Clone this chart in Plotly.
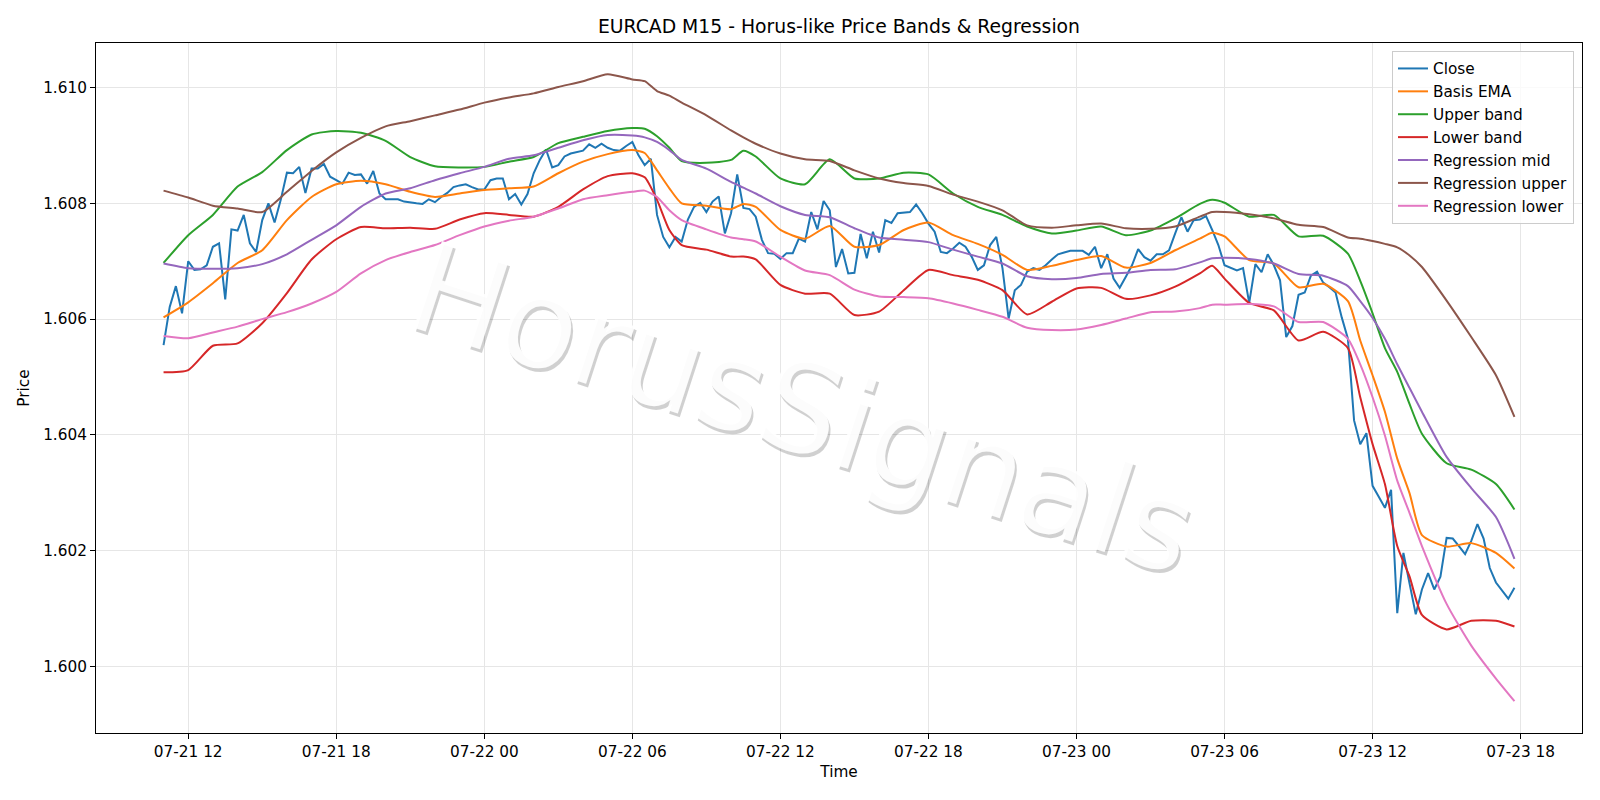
import pandas as pd
import plotly.graph_objects as go

# ---------------- data ----------------
start_time = "2025-07-21 11:00"

close = [
    1.60555, 1.60621, 1.60657, 1.60610, 1.60700, 1.60685, 1.60686, 1.60693, 1.60725, 1.60731,
    1.60634, 1.60755, 1.60753, 1.60780, 1.60731, 1.60716, 1.60771, 1.60800, 1.60767, 1.60806,
    1.60853, 1.60852, 1.60863, 1.60818, 1.60860, 1.60860, 1.60868, 1.60846, 1.60840, 1.60834,
    1.60853, 1.60849, 1.60850, 1.60834, 1.60856, 1.60817, 1.60807, 1.60807, 1.60807, 1.60803,
    1.60801, 1.60800, 1.60799, 1.60807, 1.60802, 1.60811, 1.60818, 1.60828, 1.60831, 1.60833,
    1.60828, 1.60824, 1.60824, 1.60840, 1.60843, 1.60843, 1.60807, 1.60816, 1.60798, 1.60816,
    1.60852, 1.60875, 1.60893, 1.60862, 1.60866, 1.60881, 1.60886, 1.60889, 1.60891, 1.60902,
    1.60896, 1.60903, 1.60896, 1.60892, 1.60891, 1.60899, 1.60906, 1.60883, 1.60866, 1.60877,
    1.60780, 1.60742, 1.60724, 1.60742, 1.60734, 1.60772, 1.60794, 1.60801, 1.60785, 1.60803,
    1.60812, 1.60748, 1.60783, 1.60850, 1.60792, 1.60790, 1.60777, 1.60737, 1.60714, 1.60713,
    1.60704, 1.60714, 1.60714, 1.60739, 1.60734, 1.60785, 1.60755, 1.60804, 1.60788, 1.60690,
    1.60721, 1.60679, 1.60680, 1.60747, 1.60705, 1.60751, 1.60715, 1.60771, 1.60766, 1.60783,
    1.60784, 1.60785, 1.60798, 1.60783, 1.60765, 1.60751, 1.60716, 1.60714, 1.60722, 1.60732,
    1.60725, 1.60708, 1.60685, 1.60693, 1.60728, 1.60742, 1.60688, 1.60601, 1.60650, 1.60659,
    1.60682, 1.60688, 1.60685, 1.60693, 1.60703, 1.60712, 1.60715, 1.60718, 1.60718, 1.60718,
    1.60711, 1.60725, 1.60688, 1.60712, 1.60670, 1.60654, 1.60673, 1.60693, 1.60721, 1.60707,
    1.60701, 1.60712, 1.60712, 1.60719, 1.60748, 1.60776, 1.60751, 1.60771, 1.60772, 1.60778,
    1.60754, 1.60728, 1.60693, 1.60688, 1.60684, 1.60688, 1.60628, 1.60695, 1.60681, 1.60712,
    1.60693, 1.60667, 1.60569, 1.60588, 1.60642, 1.60646, 1.60675, 1.60682, 1.60663, 1.60655,
    1.60646, 1.60603, 1.60566, 1.60425, 1.60384, 1.60403, 1.60312, 1.60293, 1.60274, 1.60305,
    1.60092, 1.60196, 1.60142, 1.60090, 1.60133, 1.60161, 1.60133, 1.60155, 1.60222, 1.60221,
    1.60208, 1.60194, 1.60217, 1.60246, 1.60221, 1.60170, 1.60145, 1.60132, 1.60117, 1.60136,
]

# bar index (15-min step) at which the smooth series were read
band_idx = [0, 4, 8, 12, 16, 20, 24, 28, 32, 36,
            40, 44, 48, 52, 56, 60, 64, 68, 72,
            76, 78, 80, 82, 84, 88, 92, 94, 96, 100, 104, 108,
            112, 116, 120, 124, 128, 132, 136, 140, 144,
            148, 152, 156, 160, 164, 168, 170, 172, 176, 180,
            184, 188, 192, 194, 196, 198, 200, 202, 204, 208, 212, 216, 219]

basis_ema = [1.60603, 1.60629, 1.60662, 1.60697, 1.60719, 1.60771, 1.60811, 1.60833, 1.60839, 1.60833,
             1.60820, 1.60811, 1.60817, 1.60823, 1.60826, 1.60829, 1.60852, 1.60872, 1.60885,
             1.60892, 1.60887, 1.60857, 1.60826, 1.60800, 1.60796, 1.60790, 1.60799, 1.60794, 1.60754, 1.60739, 1.60761,
             1.60725, 1.60728, 1.60754, 1.60767, 1.60745, 1.60730, 1.60711, 1.60685, 1.60692,
             1.60702, 1.60709, 1.60689, 1.60697, 1.60719, 1.60739, 1.60749, 1.60743, 1.60702, 1.60696,
             1.60655, 1.60661, 1.60631, 1.60563, 1.60503, 1.60440, 1.60359, 1.60299, 1.60227, 1.60207, 1.60213, 1.60196, 1.60169]

upper_band = [1.60697, 1.60745, 1.60780, 1.60829, 1.60854, 1.60892, 1.60919, 1.60925, 1.60922, 1.60908,
              1.60880, 1.60864, 1.60862, 1.60863, 1.60872, 1.60880, 1.60904, 1.60915, 1.60925,
              1.60930, 1.60929, 1.60916, 1.60896, 1.60873, 1.60870, 1.60875, 1.60891, 1.60881, 1.60843, 1.60833, 1.60876,
              1.60843, 1.60843, 1.60853, 1.60850, 1.60817, 1.60794, 1.60780, 1.60760, 1.60748,
              1.60753, 1.60760, 1.60745, 1.60753, 1.60774, 1.60799, 1.60806, 1.60801, 1.60777, 1.60780,
              1.60743, 1.60744, 1.60713, 1.60666, 1.60610, 1.60550, 1.60509, 1.60453, 1.60402, 1.60351, 1.60340, 1.60315, 1.60271]

lower_band = [1.60508, 1.60512, 1.60554, 1.60558, 1.60593, 1.60645, 1.60703, 1.60738, 1.60759, 1.60757,
              1.60758, 1.60756, 1.60772, 1.60783, 1.60780, 1.60777, 1.60794, 1.60824, 1.60847,
              1.60852, 1.60845, 1.60806, 1.60754, 1.60728, 1.60720, 1.60708, 1.60708, 1.60703, 1.60659, 1.60644, 1.60644,
              1.60607, 1.60613, 1.60650, 1.60685, 1.60676, 1.60668, 1.60650, 1.60608, 1.60630,
              1.60653, 1.60654, 1.60635, 1.60641, 1.60656, 1.60679, 1.60692, 1.60670, 1.60628, 1.60615,
              1.60563, 1.60578, 1.60550, 1.60465, 1.60384, 1.60315, 1.60208, 1.60155, 1.60089, 1.60064, 1.60079, 1.60079, 1.60069]

reg_mid = [1.60696, 1.60688, 1.60687, 1.60688, 1.60695, 1.60712, 1.60737, 1.60762, 1.60794, 1.60817,
           1.60826, 1.60840, 1.60852, 1.60863, 1.60877, 1.60883, 1.60896, 1.60909, 1.60918,
           1.60917, 1.60914, 1.60906, 1.60892, 1.60875, 1.60860, 1.60837, 1.60827, 1.60817, 1.60795, 1.60780, 1.60776,
           1.60757, 1.60741, 1.60737, 1.60733, 1.60720, 1.60708, 1.60696, 1.60674, 1.60669,
           1.60671, 1.60678, 1.60680, 1.60685, 1.60686, 1.60698, 1.60705, 1.60706, 1.60704, 1.60696,
           1.60678, 1.60675, 1.60657, 1.60631, 1.60602, 1.60566, 1.60522, 1.60481, 1.60440, 1.60362, 1.60308, 1.60258, 1.60186]

reg_upper = [1.60822, 1.60810, 1.60796, 1.60791, 1.60785, 1.60820, 1.60856, 1.60888, 1.60913, 1.60933,
             1.60942, 1.60952, 1.60962, 1.60974, 1.60983, 1.60990, 1.61001, 1.61011, 1.61023,
             1.61014, 1.61011, 1.60994, 1.60986, 1.60974, 1.60952, 1.60926, 1.60914, 1.60903, 1.60886, 1.60876, 1.60873,
             1.60857, 1.60843, 1.60835, 1.60830, 1.60815, 1.60803, 1.60788, 1.60762, 1.60758,
             1.60762, 1.60765, 1.60757, 1.60756, 1.60760, 1.60777, 1.60785, 1.60785, 1.60781, 1.60774,
             1.60763, 1.60759, 1.60741, 1.60739, 1.60735, 1.60730, 1.60724, 1.60710, 1.60690, 1.60632, 1.60569, 1.60503, 1.60431]

reg_lower = [1.60571, 1.60567, 1.60577, 1.60587, 1.60600, 1.60612, 1.60627, 1.60647, 1.60679, 1.60702,
             1.60716, 1.60728, 1.60745, 1.60760, 1.60770, 1.60777, 1.60791, 1.60807, 1.60814,
             1.60820, 1.60822, 1.60811, 1.60788, 1.60771, 1.60755, 1.60741, 1.60738, 1.60734, 1.60708, 1.60684, 1.60676,
             1.60651, 1.60639, 1.60638, 1.60636, 1.60627, 1.60616, 1.60604, 1.60585, 1.60581,
             1.60582, 1.60590, 1.60601, 1.60612, 1.60613, 1.60619, 1.60625, 1.60625, 1.60626, 1.60622,
             1.60595, 1.60595, 1.60566, 1.60522, 1.60465, 1.60399, 1.60321, 1.60265, 1.60208, 1.60108, 1.60036, 1.59979, 1.59940]

y_ticks = [1.600, 1.602, 1.604, 1.606, 1.608, 1.610]

# ---------------- figure ----------------
times = pd.date_range(start_time, periods=len(close), freq="15min")
band_times = times[band_idx]

FONT = "DejaVu Sans"
FS = 15.3
series = [
    ("Close", times, close, "#1f77b4", "linear"),
    ("Basis EMA", band_times, basis_ema, "#ff7f0e", "spline"),
    ("Upper band", band_times, upper_band, "#2ca02c", "spline"),
    ("Lower band", band_times, lower_band, "#d62728", "spline"),
    ("Regression mid", band_times, reg_mid, "#9467bd", "spline"),
    ("Regression upper", band_times, reg_upper, "#8c564b", "spline"),
    ("Regression lower", band_times, reg_lower, "#e377c2", "spline"),
]

fig = go.Figure()
for name, xs, ys, color, shape in series:
    line = dict(color=color, width=2, shape=shape)
    if shape == "spline":
        line["smoothing"] = 0.6
    fig.add_trace(go.Scatter(x=xs, y=ys, mode="lines", name=name, line=line,
                             legendgroup=name))

axis_common = dict(
    showline=True, mirror=True, linecolor="black", linewidth=1,
    ticks="outside", ticklen=5, tickwidth=1, tickcolor="black",
    showgrid=True, gridcolor="#e6e6e6", gridwidth=1, zeroline=False,
    tickfont=dict(family=FONT, size=FS, color="black"),
)

fig.update_layout(
    width=1600, height=800,
    paper_bgcolor="white", plot_bgcolor="white",
    margin=dict(l=96, r=18, t=43, b=67),
    font=dict(family=FONT, size=FS, color="black"),
    title=dict(text="EURCAD M15 - Horus-like Price Bands & Regression",
               x=0.5, xref="paper", xanchor="center",
               y=1 - 26 / 800, yref="container", yanchor="middle",
               font=dict(family=FONT, size=18.8, color="black")),
    xaxis=dict(
        **axis_common,
        range=["2025-07-21 08:15:45", "2025-07-23 20:29:15"],
        tick0="2025-07-21 00:00", dtick=6 * 3600 * 1000,
        tickformat="%m-%d %H",
        title=dict(text="Time", standoff=5, font=dict(family=FONT, size=FS, color="black")),
    ),
    yaxis=dict(
        **axis_common,
        range=[1.59885, 1.61077],
        tickvals=y_ticks, tickformat=".3f",
        title=dict(text="Price", standoff=9, font=dict(family=FONT, size=FS, color="black")),
    ),
    legend=dict(
        x=0.9946, xanchor="right", y=0.9884, yanchor="top",
        bgcolor="rgba(255,255,255,0.8)", bordercolor="#cccccc", borderwidth=1,
        font=dict(family=FONT, size=FS, color="black"),
        tracegroupgap=0,
    ),
    showlegend=True,
)

fig.add_annotation(
    text="HorusSignals", xref="paper", yref="paper",
    x=0.476, y=0.471, xanchor="center", yanchor="middle",
    showarrow=False, textangle=18,
    font=dict(family=FONT, size=125, color="rgba(255,255,255,0.92)",
              shadow="3px 3px 0px rgba(0,0,0,0.2)"),
)

fig.write_html("out.html")
